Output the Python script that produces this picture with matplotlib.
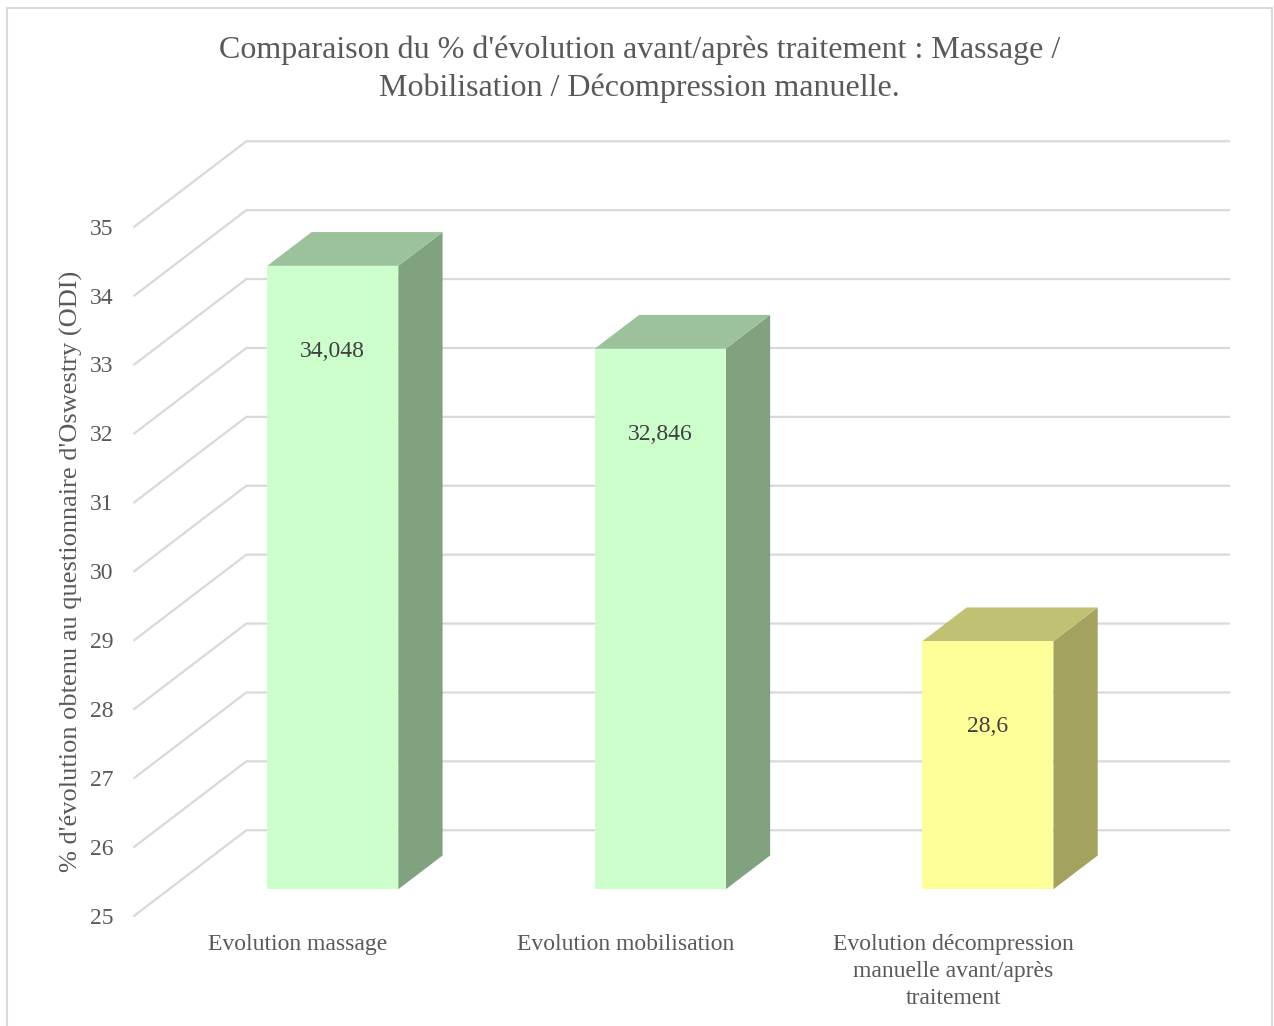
import numpy as np
import matplotlib.pyplot as plt
from matplotlib.patches import Polygon, Rectangle

plt.rcParams['font.family'] = ['Liberation Serif', 'DejaVu Serif']

categories = ["Evolution massage", "Evolution mobilisation",
              "Evolution décompression\nmanuelle avant/après\ntraitement"]
values = [34.048, 32.846, 28.6]
value_labels = ["34,048", "32,846", "28,6"]
yticks = list(range(25, 36))

front_colors = ["#CCFFCC", "#CCFFCC", "#FFFF99"]
top_colors = ["#9BC29B", "#9BC29B", "#C1C174"]
side_colors = ["#80A27F", "#80A27F", "#A3A35F"]

title = ("Comparaison du % d'évolution avant/après traitement : Massage /\n"
         "Mobilisation / Décompression manuelle.")
ylabel = "% d'évolution obtenu au questionnaire d'Oswestry (ODI)"

# fake 3d: depth vector in data units, bar occupies depth f1..f2
DX, DY = 0.342, 1.24
f1, f2 = 0.31, 0.705
width = 0.4
grid_col = "#D9D9D9"
text_col = "#595959"

W, H = 1274, 1026
fig = plt.figure(figsize=(W / 100, H / 100), dpi=100)
fig.patches.append(Rectangle((7 / W, -0.01), 1265 / W, 1 - 8 / H + 0.01,
                             transform=fig.transFigure, fill=False,
                             edgecolor="#D9D9D9", lw=1.5))

ax = fig.add_axes([134.3 / W, (H - 915.7) / H, 982.7 / W, 689 / H])
ax.set_xlim(-0.5, 2.5)
ax.set_ylim(25, 35)
ax.patch.set_alpha(0)
for s in ax.spines.values():
    s.set_visible(False)

# wall gridlines
for v in yticks:
    ax.plot([-0.5, -0.5 + DX, 2.5 + DX], [v, v + DY, v + DY], color=grid_col,
            lw=1.6, clip_on=False, zorder=1, solid_joinstyle="miter")

# bars
ddx, ddy = (f2 - f1) * DX, (f2 - f1) * DY
for i, v in enumerate(values):
    xc = i + f1 * DX
    x0, x1 = xc - width / 2, xc + width / 2
    base = 25 + f1 * DY
    top = v + f1 * DY
    front = [(x0, base), (x1, base), (x1, top), (x0, top)]
    topf = [(x0, top), (x1, top), (x1 + ddx, top + ddy), (x0 + ddx, top + ddy)]
    side = [(x1, base), (x1 + ddx, base + ddy), (x1 + ddx, top + ddy), (x1, top)]
    for pts, c in [(side, side_colors[i]), (topf, top_colors[i]), (front, front_colors[i])]:
        ax.add_patch(Polygon(pts, closed=True, facecolor=c, edgecolor="none",
                             clip_on=False, zorder=3))
    ax.text(xc, top - 1.24, value_labels[i], ha="center", va="center",
            fontsize=17, color="#404040", zorder=4)

ax.set_yticks(yticks)
ax.set_xticks(range(len(categories)), categories)
ax.tick_params(axis="y", length=0, pad=15, labelsize=17, labelcolor=text_col)
ax.tick_params(axis="x", length=0, pad=13, labelsize=17, labelcolor=text_col)
for t in ax.get_xticklabels():
    t.set_multialignment("center")
    t.set_linespacing(1.38)
ax.set_ylabel(ylabel, fontsize=19, color=text_col, labelpad=5)

fig.text(639.5 / W, 1 - 69 / H, title, ha="center", va="center",
         fontsize=23, color=text_col, linespacing=1.36)

fig.savefig("out.png", dpi=100)
